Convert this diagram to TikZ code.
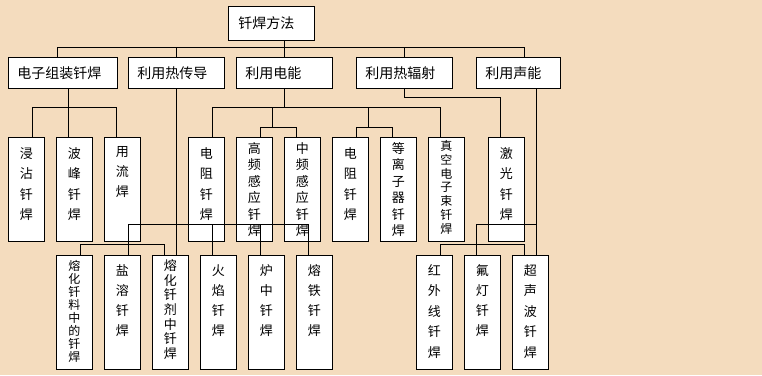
\documentclass[tikz,border=0pt]{standalone}
\usepackage{fontspec}
\setmainfont{Noto Sans CJK SC}
\usetikzlibrary{positioning}
\definecolor{paper}{HTML}{F4DCBE}
% vertical text column: height, top gap, line step, text
\newcommand\colt[4]{\parbox[c][#1pt][t]{36pt}{\centering\lineskiplimit=-20pt\vspace*{#2pt}\baselineskip=#3pt #4\par}}
\tikzset{
  head/.style={draw,fill=white,line width=0.9pt,anchor=north west,inner xsep=9pt,inner ysep=0pt,
    minimum height=31pt,align=left,font=\fontsize{14}{14}\selectfont},
  colbox/.style={draw,fill=white,line width=0.9pt,anchor=north west,inner sep=0pt,
    font=\fontsize{13}{13}\selectfont},
  ln/.style={line width=0.9pt}
}
\begin{document}
\begin{tikzpicture}[x=1pt,y=-1pt]
\fill[paper] (0,0) rectangle (762,375);
% top and second row
\node[head,inner xsep=10pt,minimum height=34pt,text width=66pt] (fangfa) at (228,6) {钎焊方法};
\node[head,text width=91pt] (zuzhuang) at (8,57) {电子组装钎焊};
\node[head,text width=78pt] (chuandao) at (128,57) {利用热传导};
\node[head,text width=78pt] (dianneng) at (236,57) {利用电能};
\node[head,text width=78pt] (fushe) at (356,57) {利用热辐射};
\node[head,text width=66pt] (shengneng) at (476,57) {利用声能};
% third row
\node[colbox] (jinzhan) at (8,137) {\colt{104}{10}{20.5}{浸\\沾\\钎\\焊}};
\node[colbox] (bofeng) at (56,137) {\colt{104}{10}{20.5}{波\\峰\\钎\\焊}};
\node[colbox] (yongliu) at (104,137) {\colt{104}{9}{20}{用\\流\\焊}};
\node[colbox] (dianzu) at (188,137) {\colt{104}{10}{20.5}{电\\阻\\钎\\焊}};
\node[colbox] (gaopin) at (236,137) {\colt{104}{5}{16.5}{高\\频\\感\\应\\钎\\焊}};
\node[colbox] (zhongpin) at (284,137) {\colt{104}{5}{16.5}{中\\频\\感\\应\\钎\\焊}};
\node[colbox] (dianzuB) at (332,137) {\colt{104}{10}{20.5}{电\\阻\\钎\\焊}};
\node[colbox] (dengliz) at (380,137) {\colt{104}{5}{16.5}{等\\离\\子\\器\\钎\\焊}};
\node[colbox,font=\fontsize{12}{12}\selectfont] (zhenkong) at (428,137) {\colt{104}{3}{13.8}{真\\空\\电\\子\\束\\钎\\焊}};
\node[colbox] (jiguang) at (488,137) {\colt{104}{10}{20.5}{激\\光\\钎\\焊}};
% fourth row
\node[colbox,font=\fontsize{12}{12}\selectfont] (rongliao) at (56,255) {\colt{114}{4.5}{13.1}{熔\\化\\钎\\料\\中\\的\\钎\\焊}};
\node[colbox] (yanrong) at (104,255) {\colt{114}{9}{20}{盐\\溶\\钎\\焊}};
\node[colbox] (rongjij) at (152,255) {\colt{114}{4}{14.7}{熔\\化\\钎\\剂\\中\\钎\\焊}};
\node[colbox] (huoyan) at (200,255) {\colt{114}{9}{20}{火\\焰\\钎\\焊}};
\node[colbox] (luzhong) at (248,255) {\colt{114}{9}{20}{炉\\中\\钎\\焊}};
\node[colbox] (rongtie) at (296,255) {\colt{114}{9}{20}{熔\\铁\\钎\\焊}};
\node[colbox] (hongwai) at (416,255) {\colt{114}{9}{20.5}{红\\外\\线\\钎\\焊}};
\node[colbox] (fudeng) at (464,255) {\colt{114}{9}{20}{氟\\灯\\钎\\焊}};
\node[colbox] (chaosheng) at (512,255) {\colt{114}{9}{20.5}{超\\声\\波\\钎\\焊}};
% connectors
\draw[ln] (dianneng.north) -- (dianneng.north |- fangfa.south);
\draw[ln] ([xshift=-5.5pt]zuzhuang.north) -- ++(0,-10) -| ([xshift=6pt]shengneng.north);
\draw[ln] (chuandao.north) -- ++(0,-10);
\draw[ln] (fushe.north) -- ++(0,-10);
\draw[ln] ([xshift=5.5pt]zuzhuang.south) -- ([xshift=-6pt]bofeng.north);
\draw[ln] ([xshift=6pt]jinzhan.north) -- ++(0,-30) -| ([xshift=-6pt]yongliu.north);
\draw[ln] (dianneng.south) -- ++(0,19);
\draw[ln] ([xshift=6pt]dianzu.north) -- ++(0,-30) -| ([xshift=-6pt]zhenkong.north);
\draw[ln] ([xshift=6pt]gaopin.north) -- ++(0,-10) -| ([xshift=-6pt]zhongpin.north);
\draw[ln] (gaopin.north east) ++(0,-10) -- ++(0,-20);
\draw[ln] ([xshift=6pt]dianzuB.north) -- ++(0,-10) -| ([xshift=-6pt]dengliz.north);
\draw[ln] (dianzuB.north east) ++(0,-10) -- ++(0,-20);
\draw[ln] (fushe.south) -- ++(0,9) -| ([xshift=-6pt]jiguang.north);
\draw[ln] ([xshift=18pt]shengneng.south) -- ([xshift=6pt]chaosheng.north);
\draw[ln] (chuandao.south) -- (chuandao.south |- rongjij.north);
% lower cross links
\draw[ln] ([xshift=6pt]yanrong.north) -- ++(0,-31) -| ([xshift=-6pt]rongtie.north);
\draw[ln] ([xshift=-6pt]huoyan.north) -- ++(0,-31);
\draw[ln] ([xshift=-6pt]luzhong.north) -- ++(0,-31);
\draw[ln] ([xshift=6pt]rongliao.north) -- ++(0,-11) -| ([xshift=-6pt]rongjij.north);
\draw[ln] ([xshift=6pt]chaosheng.north) ++(0,-31) -| ([xshift=-6pt]fudeng.north);
\draw[ln] ([xshift=6pt]hongwai.north) -- ++(0,-11) -| ([xshift=-6pt]chaosheng.north);
\end{tikzpicture}
\end{document}
